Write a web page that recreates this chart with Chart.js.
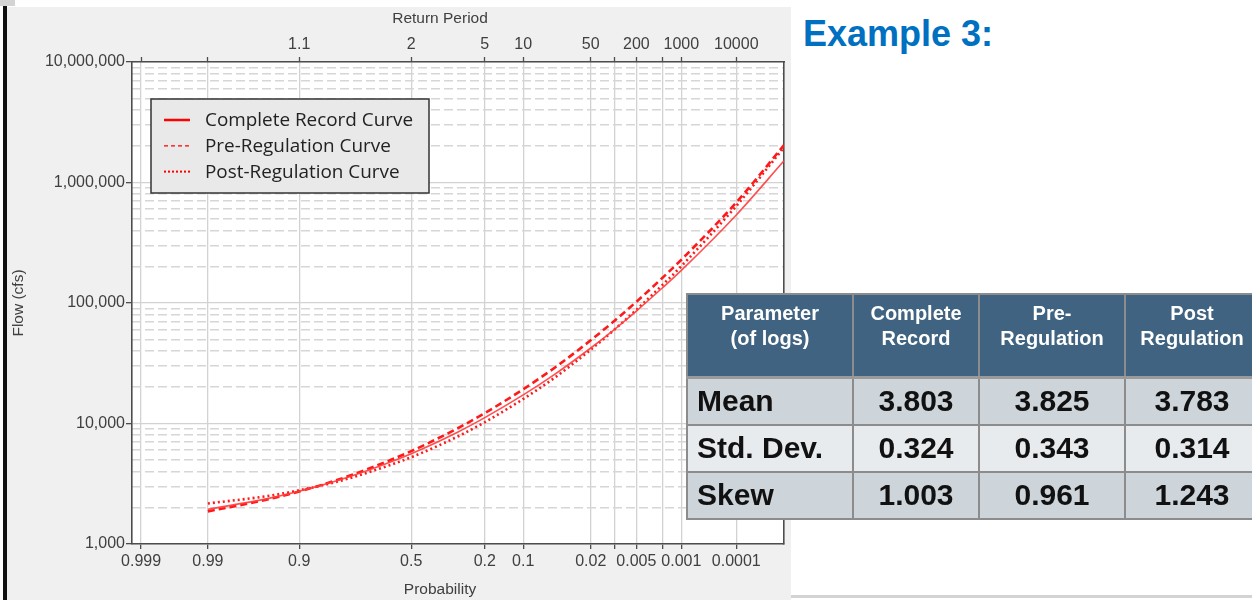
<!DOCTYPE html>
<html>
<head>
<meta charset="utf-8">
<script src="https://cdn.jsdelivr.net/npm/chart.js@4"></script>
<style>
    body { margin: 0; width: 1252px; height: 600px; position: relative; overflow: hidden; background: #fff; font-family: "Liberation Sans", Arial, sans-serif; }
    #corner { position: absolute; left: 0; top: 0; width: 15px; height: 6px; background: #d4d4d4; }
    #bar { position: absolute; left: 3px; top: 6px; width: 4px; height: 594px; background: #111; }
    #panel { position: absolute; left: 7px; top: 7px; width: 784px; height: 593px; background: #f0f0f0; }
    #panel canvas { position: absolute; left: 0; top: 0; }
    #title { position: absolute; left: 803px; top: 16px; font: bold 36px/36px "Liberation Sans", Arial, sans-serif; color: #0070c0; }
    #bottomLine { position: absolute; left: 791px; top: 595px; width: 461px; height: 3px; background: #d3d3d3; }
    #params { position: absolute; left: 686px; top: 293px; border-collapse: collapse; table-layout: fixed; width: 572px; }
    #params th, #params td { border: 2px solid #8c8c8c; padding: 0; }
    #params th { background: #3f6380; color: #fff; font: bold 20px/25px "Liberation Sans", Arial, sans-serif; height: 83px; vertical-align: top; padding-top: 6px; box-sizing: border-box; border-bottom: 3px solid #9a9a9a; }
    #params td { font: bold 30px "Liberation Sans", Arial, sans-serif; color: #111; height: 45px; text-align: center; vertical-align: middle; }
    #params td.name { text-align: left; padding-left: 9px; }
    #params tr.dark td { background: #cdd4da; }
    #params tr.light td { background: #e8ebee; }
</style>
</head>
<body>
<div id="corner"></div>
<div id="bar"></div>
<div id="panel"><canvas id="chartFlow" width="784" height="593"></canvas></div>
<div id="title">Example 3:</div>
<table id="params"></table>
<div id="bottomLine"></div>

<script>
// Exceedance probabilities (x) and flows (cfs)
const probabilities = [0.99, 0.95, 0.9, 0.8, 0.7, 0.5, 0.3, 0.2, 0.1, 0.05, 0.02, 0.01, 0.005, 0.002, 0.001, 0.0001, 0.00001];
const completeRecord = [1940, 2380, 2740, 3370, 4020, 5620, 8430, 11190, 17270, 25690, 42330, 60550, 85770, 134400, 186600, 538000, 1511000];
const preRegulation = [1865, 2340, 2730, 3410, 4120, 5900, 9070, 12200, 19250, 29170, 49090, 71270, 102300, 162800, 228700, 683000, 2040000];
const postRegulation = [2170, 2500, 2790, 3300, 3860, 5250, 7750, 10260, 15980, 24120, 41020, 60290, 87870, 141900, 202200, 639000, 1950000];

// Axis ticks
const probTicks = [0.999, 0.99, 0.9, 0.5, 0.2, 0.1, 0.02, 0.01, 0.005, 0.002, 0.001, 0.0001];
const probLabels = ['0.999', '0.99', '0.9', '0.5', '0.2', '0.1', '0.02', '', '0.005', '', '0.001', '0.0001'];
const returnLabels = ['', '', '1.1', '2', '5', '10', '50', '', '200', '', '1000', '10000'];
const flowTicks = [1000, 10000, 100000, 1000000, 10000000];
const minorSteps = [2, 3, 4, 5, 6, 7, 8, 9];

// Table of log statistics
const paramNames = ['Mean', 'Std. Dev.', 'Skew'];
const completeStats = ['3.803', '0.324', '1.003'];
const preStats = ['3.825', '0.343', '0.961'];
const postStats = ['3.783', '0.314', '1.243'];
const tableHead = [['Parameter', '(of logs)'], ['Complete', 'Record'], ['Pre-', 'Regulation'], ['Post', 'Regulation']];
const colWidths = [166, 126, 146, 134];

// Inverse standard normal (Acklam)
function normInv(p) {
    const a = [-39.69683028665376, 220.9460984245205, -275.9285104469687, 138.3577518672690, -30.66479806614716, 2.506628277459239];
    const b = [-54.47609879822406, 161.5858368580409, -155.6989798598866, 66.80131188771972, -13.28068155288572];
    const c = [-0.007784894002430293, -0.3223964580411365, -2.400758277161838, -2.549732539343734, 4.374664141464968, 2.938163982698783];
    const d = [0.007784695709041462, 0.3224671290700398, 2.445134137142996, 3.754408661907416];
    const lo = 0.02425;
    let q, r;
    if (p < lo) {
        q = Math.sqrt(-2 * Math.log(p));
        return (((((c[0] * q + c[1]) * q + c[2]) * q + c[3]) * q + c[4]) * q + c[5]) / ((((d[0] * q + d[1]) * q + d[2]) * q + d[3]) * q + 1);
    }
    if (p > 1 - lo) {
        q = Math.sqrt(-2 * Math.log(1 - p));
        return -(((((c[0] * q + c[1]) * q + c[2]) * q + c[3]) * q + c[4]) * q + c[5]) / ((((d[0] * q + d[1]) * q + d[2]) * q + d[3]) * q + 1);
    }
    q = p - 0.5;
    r = q * q;
    return (((((a[0] * r + a[1]) * r + a[2]) * r + a[3]) * r + a[4]) * r + a[5]) * q / (((((b[0] * r + b[1]) * r + b[2]) * r + b[3]) * r + b[4]) * r + 1);
}

// Normal probability axis (exceedance, decreasing left to right)
class ProbabilityScale extends Chart.Scale {
    static id = 'probability';
    static defaults = {};
    determineDataLimits() {
        this.min = this.options.min;
        this.max = this.options.max;
    }
    buildTicks() {
        return (this.options.tickValues || []).map(v => ({ value: v }));
    }
    getLabelForValue(v) {
        return String(v);
    }
    configure() {
        super.configure();
        this._zStart = -normInv(this.max);
        this._zEnd = -normInv(this.min);
    }
    getPixelForValue(v) {
        return this.getPixelForDecimal((-normInv(v) - this._zStart) / (this._zEnd - this._zStart));
    }
    getValueForPixel() {
        return null;
    }
}
Chart.register(ProbabilityScale);

const tickFont = { family: '"Liberation Sans", Arial, sans-serif', size: 16 };
const axisColor = '#4d4d4d';
const gridColor = '#d2d2d2';

// White plot background
const plotBackground = {
    id: 'plotBackground',
    beforeDraw(chart) {
        const { ctx, chartArea: a } = chart;
        ctx.save();
        ctx.fillStyle = '#ffffff';
        ctx.fillRect(a.left, a.top, a.right - a.left, a.bottom - a.top);
        ctx.restore();
    }
};

// Axis titles for the x axes and the boxed legend inside the plot
const extras = {
    id: 'extras',
    afterDraw(chart) {
        const { ctx, chartArea: a } = chart;
        ctx.save();
        ctx.fillStyle = '#404040';
        ctx.font = '15.5px "Liberation Sans", Arial, sans-serif';
        ctx.textAlign = 'center';
        ctx.textBaseline = 'middle';
        ctx.fillText('Return Period', a.left + 308, 12);
        ctx.fillText('Probability', a.left + 308, chart.height - 10);

        // legend box
        const bx = a.left + 19, by = a.top + 37;
        ctx.fillStyle = '#e9e9e9';
        ctx.fillRect(bx, by, 278, 94);
        ctx.strokeStyle = '#333';
        ctx.lineWidth = 1.5;
        ctx.strokeRect(bx, by, 278, 94);
        ctx.textAlign = 'left';
        ctx.font = '18.9px "Open Sans", "Noto Sans", sans-serif';
        chart.data.datasets.forEach((ds, i) => {
            const y = by + 21 + i * 25.8;
            ctx.strokeStyle = '#ff0000';
            ctx.lineWidth = ds.legendWidth;
            ctx.setLineDash(ds.legendDash);
            ctx.beginPath();
            ctx.moveTo(bx + 13, y);
            ctx.lineTo(bx + 39, y);
            ctx.stroke();
            ctx.setLineDash([]);
            ctx.fillStyle = '#222';
            ctx.fillText(ds.label, bx + 54, y + 1);
        });
        ctx.restore();
    }
};

const toPoints = vals => probabilities.map((p, i) => ({ x: p, y: vals[i] }));

new Chart(document.getElementById('chartFlow'), {
    type: 'line',
    data: {
        datasets: [{
            label: 'Complete Record Curve',
            data: toPoints(completeRecord),
            borderColor: 'rgba(255, 60, 60, 0.9)',
            borderWidth: 1.6,
            legendWidth: 2.5,
            legendDash: []
        }, {
            label: 'Pre-Regulation Curve',
            data: toPoints(preRegulation),
            borderColor: '#ff1a1a',
            borderWidth: 2.6,
            borderDash: [7, 4],
            legendWidth: 1.2,
            legendDash: [4, 3]
        }, {
            label: 'Post-Regulation Curve',
            data: toPoints(postRegulation),
            borderColor: '#ff1a1a',
            borderWidth: 2.6,
            borderDash: [2, 3],
            legendWidth: 2,
            legendDash: [2, 2]
        }]
    },
    options: {
        responsive: false,
        animation: false,
        events: [],
        layout: { padding: 0 },
        elements: {
            point: { radius: 0 },
            line: { cubicInterpolationMode: 'monotone' }
        },
        plugins: {
            legend: { display: false },
            tooltip: { enabled: false }
        },
        scales: {
            x: {
                type: 'probability',
                position: 'bottom',
                min: 0.00001,
                max: 0.9993,
                tickValues: probTicks,
                afterFit: s => { s.height = 56; },
                ticks: {
                    font: tickFont,
                    color: '#404040',
                    padding: 3,
                    maxRotation: 0,
                    autoSkip: false,
                    callback: (v, i) => probLabels[i]
                },
                grid: { color: gridColor, lineWidth: 1.3, tickColor: axisColor, tickLength: 5, tickWidth: 1.3 },
                border: { color: axisColor, width: 1.6 }
            },
            xTop: {
                type: 'probability',
                position: 'top',
                min: 0.00001,
                max: 0.9993,
                tickValues: probTicks,
                afterFit: s => { s.height = 55; },
                ticks: {
                    font: tickFont,
                    color: '#404040',
                    padding: 3,
                    maxRotation: 0,
                    autoSkip: false,
                    callback: (v, i) => returnLabels[i]
                },
                grid: { drawOnChartArea: false, tickColor: axisColor, tickLength: 5, tickWidth: 1.3 },
                border: { color: axisColor, width: 1.6 }
            },
            y: {
                type: 'logarithmic',
                position: 'left',
                min: 1000,
                max: 10000000,
                afterBuildTicks: s => { s.ticks = flowTicks.map(v => ({ value: v })); },
                afterFit: s => { s.width = 125; },
                title: {
                    display: true,
                    text: 'Flow (cfs)',
                    color: '#404040',
                    font: { family: '"Liberation Sans", Arial, sans-serif', size: 15.5 },
                    padding: { top: 2, bottom: 0 }
                },
                ticks: {
                    font: tickFont,
                    color: '#404040',
                    padding: 1,
                    autoSkip: false,
                    callback: v => v.toLocaleString('en-US')
                },
                grid: { color: gridColor, lineWidth: 1.3, tickColor: axisColor, tickLength: 6, tickWidth: 1.3 },
                border: { color: axisColor, width: 1.6 }
            },
            yMinor: {
                type: 'logarithmic',
                position: 'right',
                min: 1000,
                max: 10000000,
                afterBuildTicks: s => {
                    const t = [];
                    flowTicks.slice(0, -1).forEach(d => minorSteps.forEach(m => t.push({ value: d * m })));
                    s.ticks = t;
                },
                afterFit: s => { s.width = 7; },
                ticks: { display: false },
                grid: { drawTicks: false, color: '#d6d6d6', lineWidth: 1.5 },
                border: { color: axisColor, width: 1.6, dash: [9, 4] }
            }
        }
    },
    plugins: [plotBackground, extras]
});

// Parameter table
const table = document.getElementById('params');
let html = '<colgroup>' + colWidths.map(w => '<col style="width:' + w + 'px">').join('') + '</colgroup>';
html += '<tr>' + tableHead.map(h => '<th>' + h.join('<br>') + '</th>').join('') + '</tr>';
paramNames.forEach((name, i) => {
    html += '<tr class="' + (i === 1 ? 'light' : 'dark') + '"><td class="name">' + name + '</td><td>' + completeStats[i] +
        '</td><td>' + preStats[i] + '</td><td>' + postStats[i] + '</td></tr>';
});
table.innerHTML = html;
</script>
</body>
</html>
